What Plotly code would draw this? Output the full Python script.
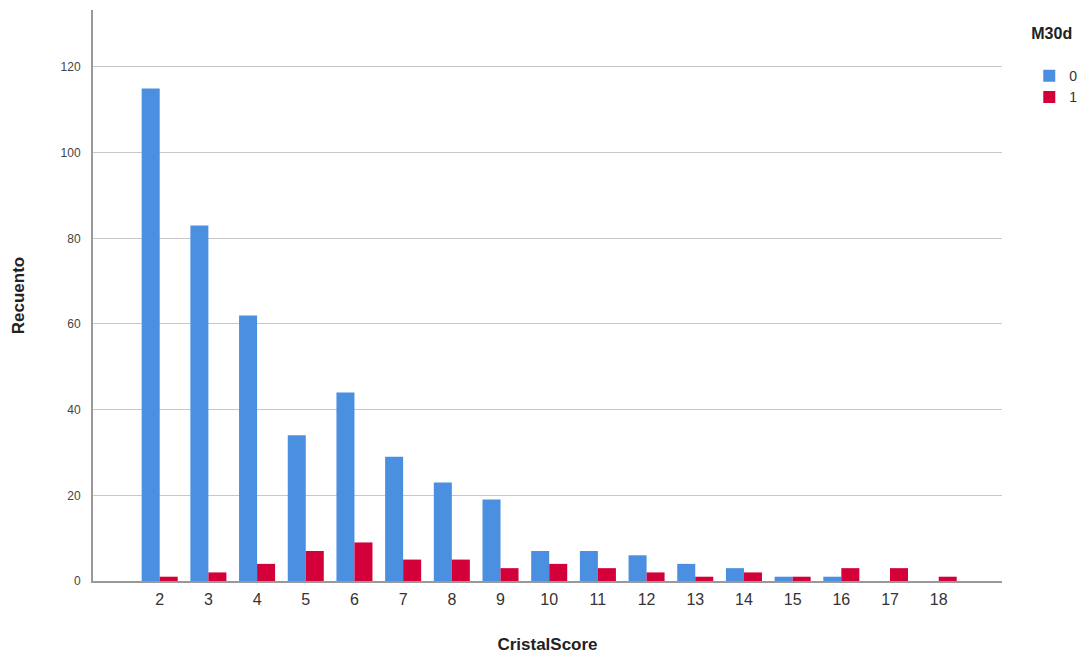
import plotly.graph_objects as go

categories = [2, 3, 4, 5, 6, 7, 8, 9, 10, 11, 12, 13, 14, 15, 16, 17, 18]
m30d_0 = [115, 83, 62, 34, 44, 29, 23, 19, 7, 7, 6, 4, 3, 1, 1, 0, 0]
m30d_1 = [1, 2, 4, 7, 9, 5, 5, 3, 4, 3, 2, 1, 2, 1, 3, 3, 1]
y_ticks = [0, 20, 40, 60, 80, 100, 120]

fig = go.Figure()
fig.add_trace(go.Bar(x=categories, y=m30d_0, name="0", marker=dict(color="#4a8fe0", line=dict(width=0))))
fig.add_trace(go.Bar(x=categories, y=m30d_1, name="1", marker=dict(color="#d4003a", line=dict(width=0))))

fig.update_layout(
    width=1076, height=646,
    margin=dict(l=85, r=79, t=2, b=73),
    paper_bgcolor="white", plot_bgcolor="white",
    barmode="group", bargap=0.26, bargroupgap=0,
    font=dict(family="Arial, Liberation Sans, sans-serif", color="#222"),
    xaxis=dict(
        range=[0.63, 19.3], tickmode="array", tickvals=categories,
        ticktext=[str(c) for c in categories], tickfont=dict(size=16, color="#333"),
        showgrid=False, showline=True, linecolor="#999", linewidth=2,
        ticks="", ticklabelstandoff=3, automargin=False,
        title=dict(text="<b>CristalScore</b>", font=dict(size=17, color="#222"), standoff=36),
        zeroline=False,
    ),
    yaxis=dict(
        range=[0, 133.3], tickmode="array", tickvals=y_ticks,
        tickfont=dict(size=12, color="#444"),
        showgrid=True, gridcolor="#c8c8c8", gridwidth=1,
        showline=True, linecolor="#999", linewidth=2,
        ticks="", ticklabelstandoff=8, zeroline=False,
        title=dict(text="<b>Recuento</b>", font=dict(size=17, color="#222"), standoff=32),
    ),
    legend=dict(
        title=dict(text="<b>M30d</b><br><span style='font-size:7px'> </span>", font=dict(size=16, color="#222"), side="top"),
        x=1.03, y=0.985, xanchor="left", yanchor="top",
        font=dict(size=14, color="#333"), itemwidth=30, tracegroupgap=0,
        bgcolor="rgba(0,0,0,0)",
    ),
)

fig.write_html("out.html")
